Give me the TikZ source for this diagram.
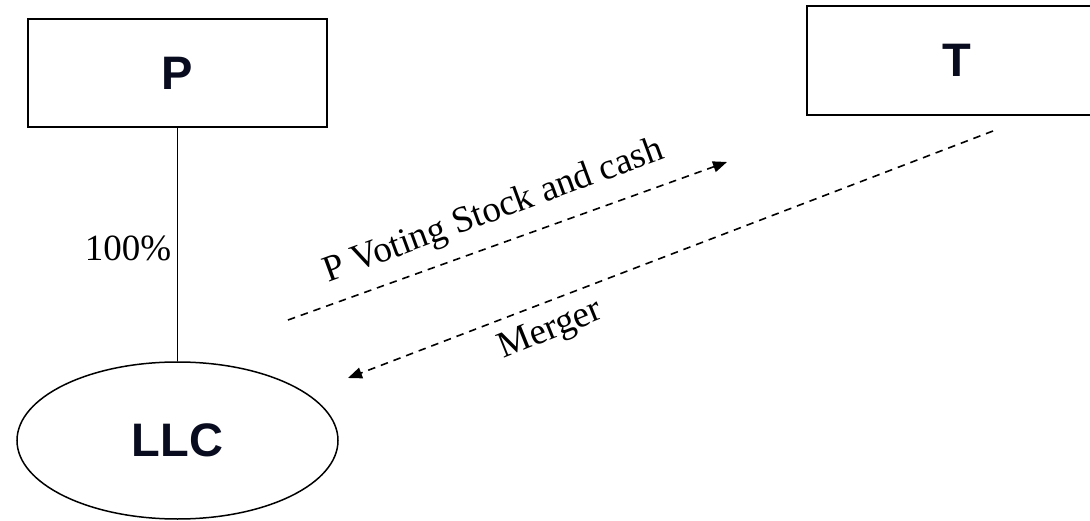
\documentclass[tikz,border=0pt]{standalone}
\usepackage{fontspec}
\setmainfont{Liberation Serif}
\newfontfamily\boxfont{Liberation Sans}
\usetikzlibrary{arrows.meta,shapes.geometric}
\definecolor{inkblue}{RGB}{8,12,30}
\tikzset{
  entbox/.style={draw, line width=1.7pt, rectangle, inner sep=0pt, font=\boxfont\bfseries\fontsize{47}{50}\selectfont, text=inkblue},
  entell/.style={draw, line width=1.5pt, ellipse, inner sep=0pt, font=\boxfont\bfseries\fontsize{47}{50}\selectfont, text=inkblue},
  flow/.style={line width=1.6pt, dash pattern=on 7.5pt off 6pt, -{Triangle[length=14pt,width=11pt]}},
  lbl/.style={font=\fontsize{37}{40}\selectfont, inner sep=0pt},
}
\begin{document}
\begin{tikzpicture}[x=1pt,y=-1pt]
\path[use as bounding box] (0,0) rectangle (1090,521);
\clip (0,0) rectangle (1090,521);
\node[entbox, minimum width=299pt, minimum height=108pt] (P) at (177.5,73) {P};
\node[entbox, minimum width=300pt, minimum height=109pt] (T) at (957,60.5) {T};
\node[entell, minimum width=321pt, minimum height=157pt] (LLC) at (177.5,440.5) {LLC};
\draw[line width=1.5pt] (P.south) -- (LLC.north);
\node[lbl] (pct) at (128,248) {100\%};
\coordinate (a1s) at (288,320);
\coordinate (a1e) at (727,162);
\coordinate (a2s) at (993,131);
\coordinate (a2e) at (348,378);
\draw[flow] (a1s) -- (a1e);
\draw[flow] (a2s) -- (a2e);
\node[lbl, rotate=20.2] (pvs) at (494,212) {P Voting Stock and cash};
\node[lbl, rotate=22] (mrg) at (551,331) {Merger};
\end{tikzpicture}
\end{document}
